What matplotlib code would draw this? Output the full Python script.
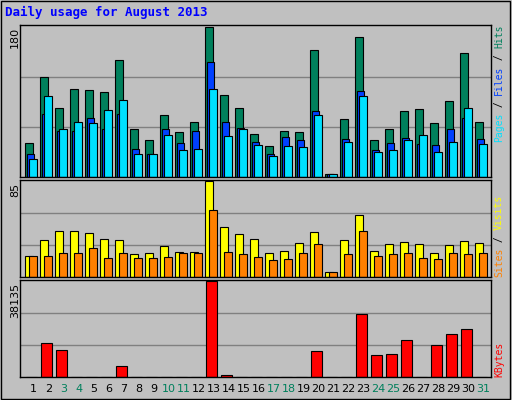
import matplotlib
matplotlib.use("Agg")
import matplotlib.pyplot as plt
import numpy as np

days = list(range(1, 32))
weekend = [3, 4, 10, 11, 17, 18, 24, 25, 31]
hits = [41,120,83,105,104,102,140,57,44,74,54,66,180,98,83,52,37,55,54,152,4,69,168,44,57,79,81,65,91,148,66]
files = [28,75,55,55,71,58,75,33,27,58,41,55,137,66,59,42,28,48,44,79,3,46,103,32,41,47,39,38,58,71,46]
pages = [21,97,57,66,64,80,92,28,28,50,32,33,105,49,57,38,25,37,36,74,4,42,97,30,32,44,50,30,42,83,39]
visits = [19,33,41,41,39,34,33,20,21,27,22,22,85,44,38,34,21,23,30,40,4,33,55,23,29,31,29,21,28,32,30]
sites = [19,19,21,21,26,17,21,17,17,18,21,21,59,22,20,18,15,16,21,29,4,20,41,19,20,21,17,16,21,20,21]
kbytes = [0,13500,10580,0,0,0,4315,0,0,0,0,0,38135,970,0,0,0,0,0,10160,0,0,25190,8900,9325,14750,0,12665,17260,18930,0]

W, H = 512, 400
BG = "#C0C0C0"
fig = plt.figure(figsize=(W/100, H/100), dpi=100, facecolor=BG)
mono = "DejaVu Sans Mono"

def ax_px(x0, y0, x1, y1):
    return fig.add_axes([x0/W, 1 - y1/H, (x1-x0)/W, (y1-y0)/H])

x = np.array(days) - 1.0
def setup(ax, ymax):
    ax.set_facecolor(BG)
    ax.set_xlim(0, 31.4)
    ax.set_ylim(0, ymax * 1.01)
    ax.set_xticks([]); ax.set_yticks([])
    for s in ax.spines.values():
        s.set_color("black"); s.set_linewidth(1)
    for g in (1/3, 2/3):
        ax.axhline(ymax * g, color="#808080", lw=1, zorder=0)

kw = dict(align="edge", edgecolor="black", linewidth=0.8)
ax1 = ax_px(20, 25, 491, 177)
setup(ax1, 180)
ax1.bar(x + 0.35, hits, 0.5, color="#00805C", **kw)
ax1.bar(x + 0.45, files, 0.5, color="#0040FF", **kw)
ax1.bar(x + 0.6, pages, 0.55, color="#00E0FF", **kw)

ax2 = ax_px(20, 180, 491, 277)
setup(ax2, 85)
ax2.bar(x + 0.35, visits, 0.5, color="#FFFF00", **kw)
ax2.bar(x + 0.6, sites, 0.5, color="#FF8000", **kw)

ax3 = ax_px(20, 280, 491, 377)
setup(ax3, 38135)
ax3.bar(x + 0.42, kbytes, 0.69, color="#FF0000", **kw)

for d in days:
    fig.text((20 + (d - 0.1) * 15) / W, 1 - 389/H, str(d), ha="center", va="center",
             fontsize=8, family="DejaVu Sans",
             color="#00805C" if d in weekend else "black")

fig.text(5/W, 1 - 12/H, "Daily usage for August 2013", fontsize=9, family=mono,
         weight="bold", color="#0000FF", ha="left", va="center")

for lab, ytop in (("180", 27), ("85", 183), ("38135", 283)):
    fig.text(15/W, 1 - ytop/H, lab, rotation=90, fontsize=8, family="DejaVu Sans",
             ha="center", va="top")

fs = 7
cw = fs * 100/72 * 0.602
def vlabel(parts, ybottom, xc=499):
    y = ybottom
    for txt, col in parts:
        fig.text(xc/W, 1 - y/H, txt, rotation=90, rotation_mode="anchor",
                 fontsize=fs, family=mono, color=col, ha="left", va="center")
        y -= cw * len(txt)

vlabel([("Pages", "#00E0FF"), (" / ", "black"), ("Files", "#0040FF"),
        (" / ", "black"), ("Hits", "#00805C")], 142)
vlabel([("Sites", "#FF8000"), (" / ", "black"), ("Visits", "#FFFF00")], 277)
vlabel([("KBytes", "#FF0000")], 377)

fig.patches.append(plt.Rectangle((0.002, 0.003), 0.994, 0.994, transform=fig.transFigure,
                                 fill=False, edgecolor="black", lw=1))
fig.savefig("out.png", dpi=100, facecolor=BG)
